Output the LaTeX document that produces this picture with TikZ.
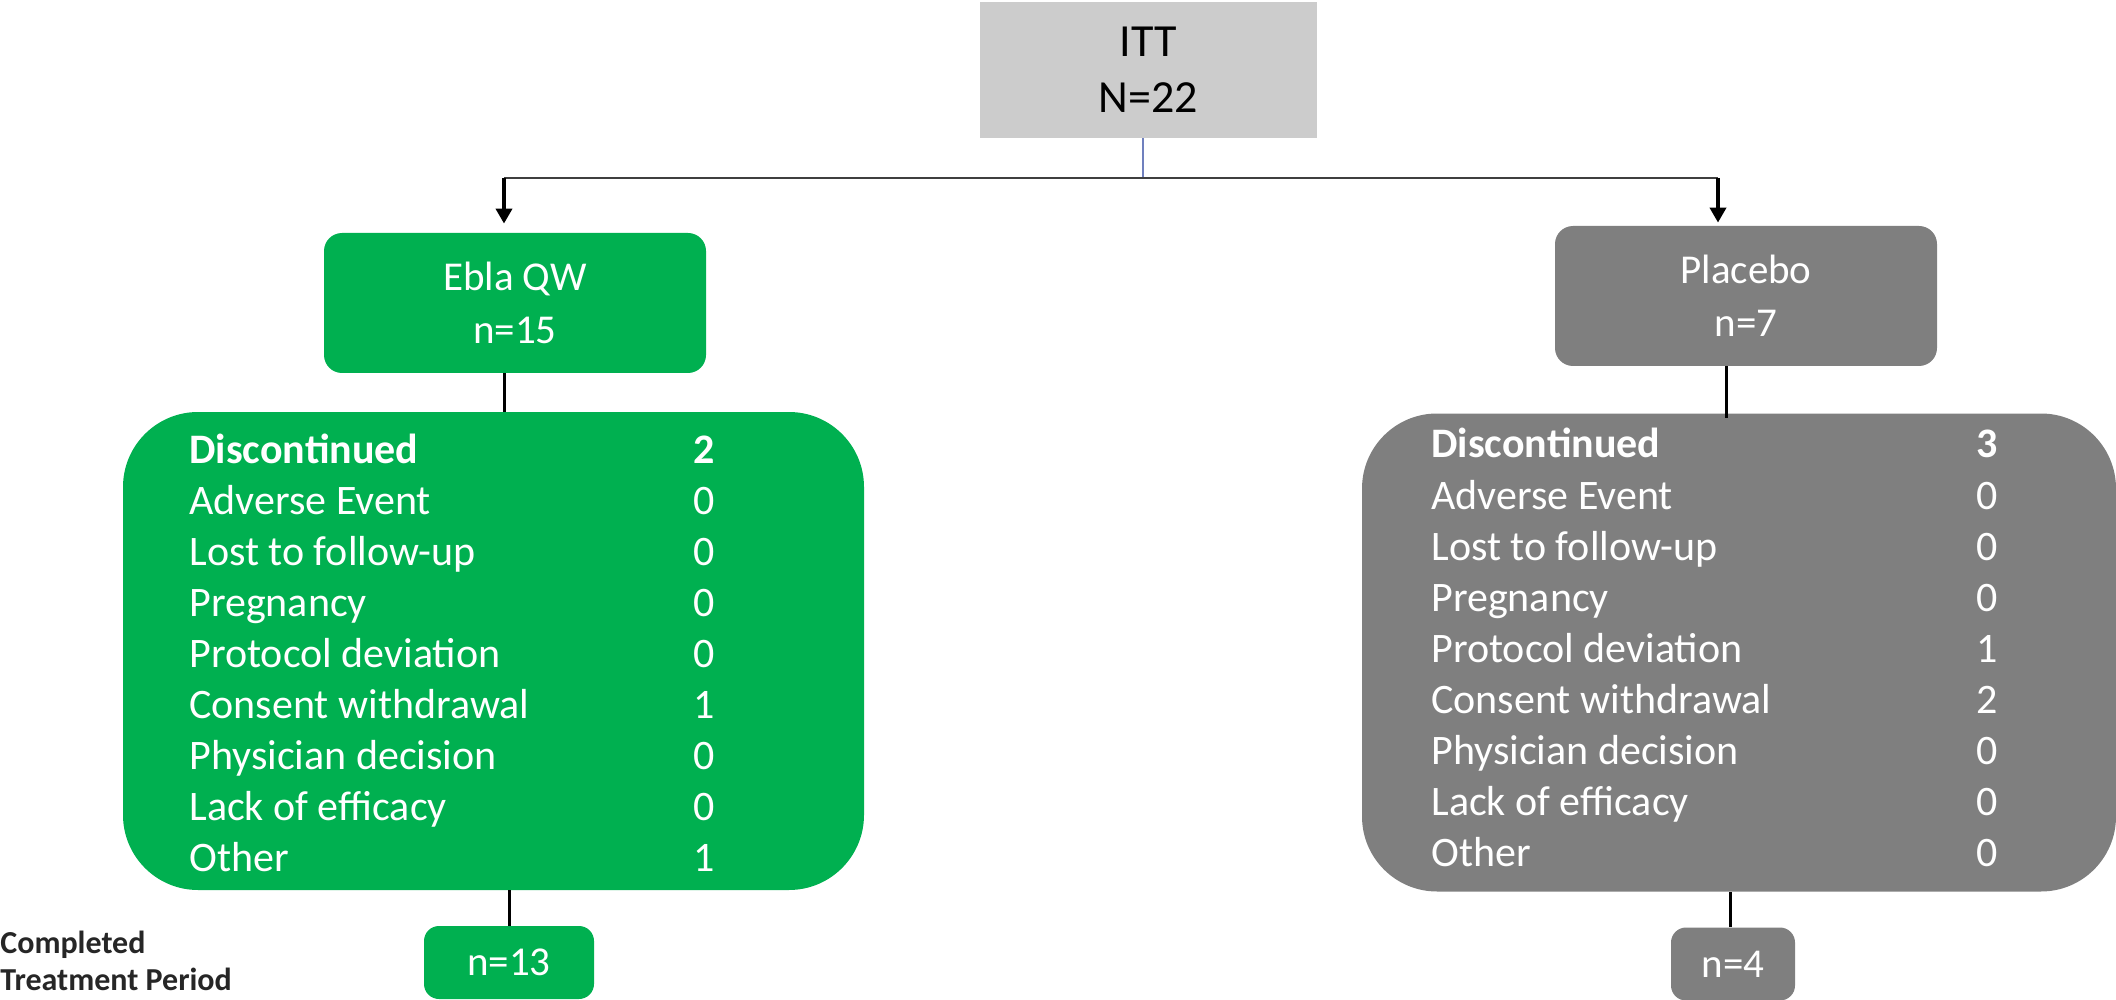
\documentclass[tikz,border=0pt]{standalone}
\usepackage{fontspec}
\setmainfont{Carlito}
\usetikzlibrary{arrows.meta}

\definecolor{eblagreen}{HTML}{00B050}
\definecolor{placgray}{HTML}{7F7F7F}
\definecolor{ittgray}{HTML}{CCCCCC}
\definecolor{splitblue}{RGB}{112,128,190}
\definecolor{splitline}{HTML}{3F3F3F}
\definecolor{notegray}{HTML}{262626}

\tikzset{
  ittbox/.style={fill=ittgray, inner sep=0pt, align=center, minimum width=168.5pt, minimum height=68pt, font=\fontsize{23}{28}\selectfont},
  armbox/.style={rounded corners=9pt, inner sep=0pt, align=center, text=white, minimum width=191pt, minimum height=70pt, font=\fontsize{20.5}{26.5}\selectfont},
  discbox/.style={rounded corners=37.5pt, inner sep=0pt, minimum height=239pt},
  donebox/.style={rounded corners=7.5pt, inner sep=0pt, text=white, minimum height=36.5pt, font=\fontsize{20.5}{24}\selectfont},
  rowtxt/.style={text=white, inner sep=0pt, font=\fontsize{21}{24}\selectfont},
  rowbold/.style={text=white, inner sep=0pt, font=\fontsize{21}{24}\selectfont\bfseries},
  link/.style={line width=1.5pt},
  splitarrow/.style={line width=2pt, -{Triangle[width=8pt,length=7.5pt]}},
}

\begin{document}
\begin{tikzpicture}[x=0.5pt,y=0.5pt,yscale=-1]
\useasboundingbox (0,0) rectangle (2116,1000);

% top box
\node[ittbox] (itt) at (1148.5,70) {ITT\\N=22};

% arms
\node[armbox, fill=eblagreen] (ebla) at (515,303) {Ebla QW\\n=15};
\node[armbox, fill=placgray] (placebo) at (1746,296) {Placebo\\n=7};

% discontinuation boxes
\node[discbox, fill=eblagreen, minimum width=370.5pt] (eblaDisc) at (493.5,651) {};
\node[discbox, fill=placgray, minimum width=377pt] (placeboDisc) at (1739,652.5) {};

% completed boxes
\node[donebox, fill=eblagreen, minimum width=85pt] (eblaDone) at (509,962.5) {n=13};
\node[donebox, fill=placgray, minimum width=62pt] (placeboDone) at (1733,964) {n=4};

%Split lines
\coordinate (split) at (1143,178);
\coordinate (splitL) at (504,178);
\coordinate (splitR) at (1718,178);
\draw [splitblue, line width=0.65pt] (itt.south -| split) -- (split);
\draw [splitline, line width=0.75pt] (splitL) -- (splitR);
\draw [splitarrow, shorten >=4.5pt] (splitL) -- (splitL |- ebla.north);
\draw [splitarrow, shorten >=1.5pt] (splitR) -- (splitR |- placebo.north);

%Straight Lines
\draw [link] (ebla.south -| splitL) -- (eblaDisc.north -| splitL);
\draw [link] ([xshift=-10pt]placebo.south) -- ([xshift=-6.5pt,yshift=2.5pt]placeboDisc.north);
\draw [link] (eblaDone.north) -- (eblaDone.north |- eblaDisc.south);
\draw [link] ([xshift=-1.5pt]placeboDone.north) -- ([xshift=-1.5pt]placeboDone.north |- placeboDisc.south);

% Text Node
\node[rowbold, anchor=base west] (eblaLbl0) at (189,463) {Discontinued};
\node[rowbold, anchor=base] (eblaVal0) at (704,463) {2};
\foreach \lbl/\val [count=\i] in {Adverse Event/0, Lost to follow-up/0, Pregnancy/0, Protocol deviation/0, Consent withdrawal/1, Physician decision/0, Lack of efficacy/0, Other/1} {
  \node[rowtxt, anchor=base west] (eblaLbl\i) at (189,{463+51.1*\i}) {\lbl};
  \node[rowtxt, anchor=base] (eblaVal\i) at (704,{463+51.1*\i}) {\val};
}

% Text Node
\node[rowbold, anchor=base west] (placLbl0) at (1431,458) {Discontinued};
\node[rowbold, anchor=base] (placVal0) at (1987,458) {3};
\foreach \lbl/\val [count=\i] in {Adverse Event/0, Lost to follow-up/0, Pregnancy/0, Protocol deviation/1, Consent withdrawal/2, Physician decision/0, Lack of efficacy/0, Other/0} {
  \node[rowtxt, anchor=base west] (placLbl\i) at (1431,{458+51.1*\i}) {\lbl};
  \node[rowtxt, anchor=base] (placVal\i) at (1987,{458+51.1*\i}) {\val};
}

% Text Node
\node[anchor=west, align=left, inner sep=0pt, text=notegray, font=\fontsize{16}{18.5}\selectfont\bfseries] (completed) at (0,961) {Completed\\Treatment Period};

\end{tikzpicture}
\end{document}
